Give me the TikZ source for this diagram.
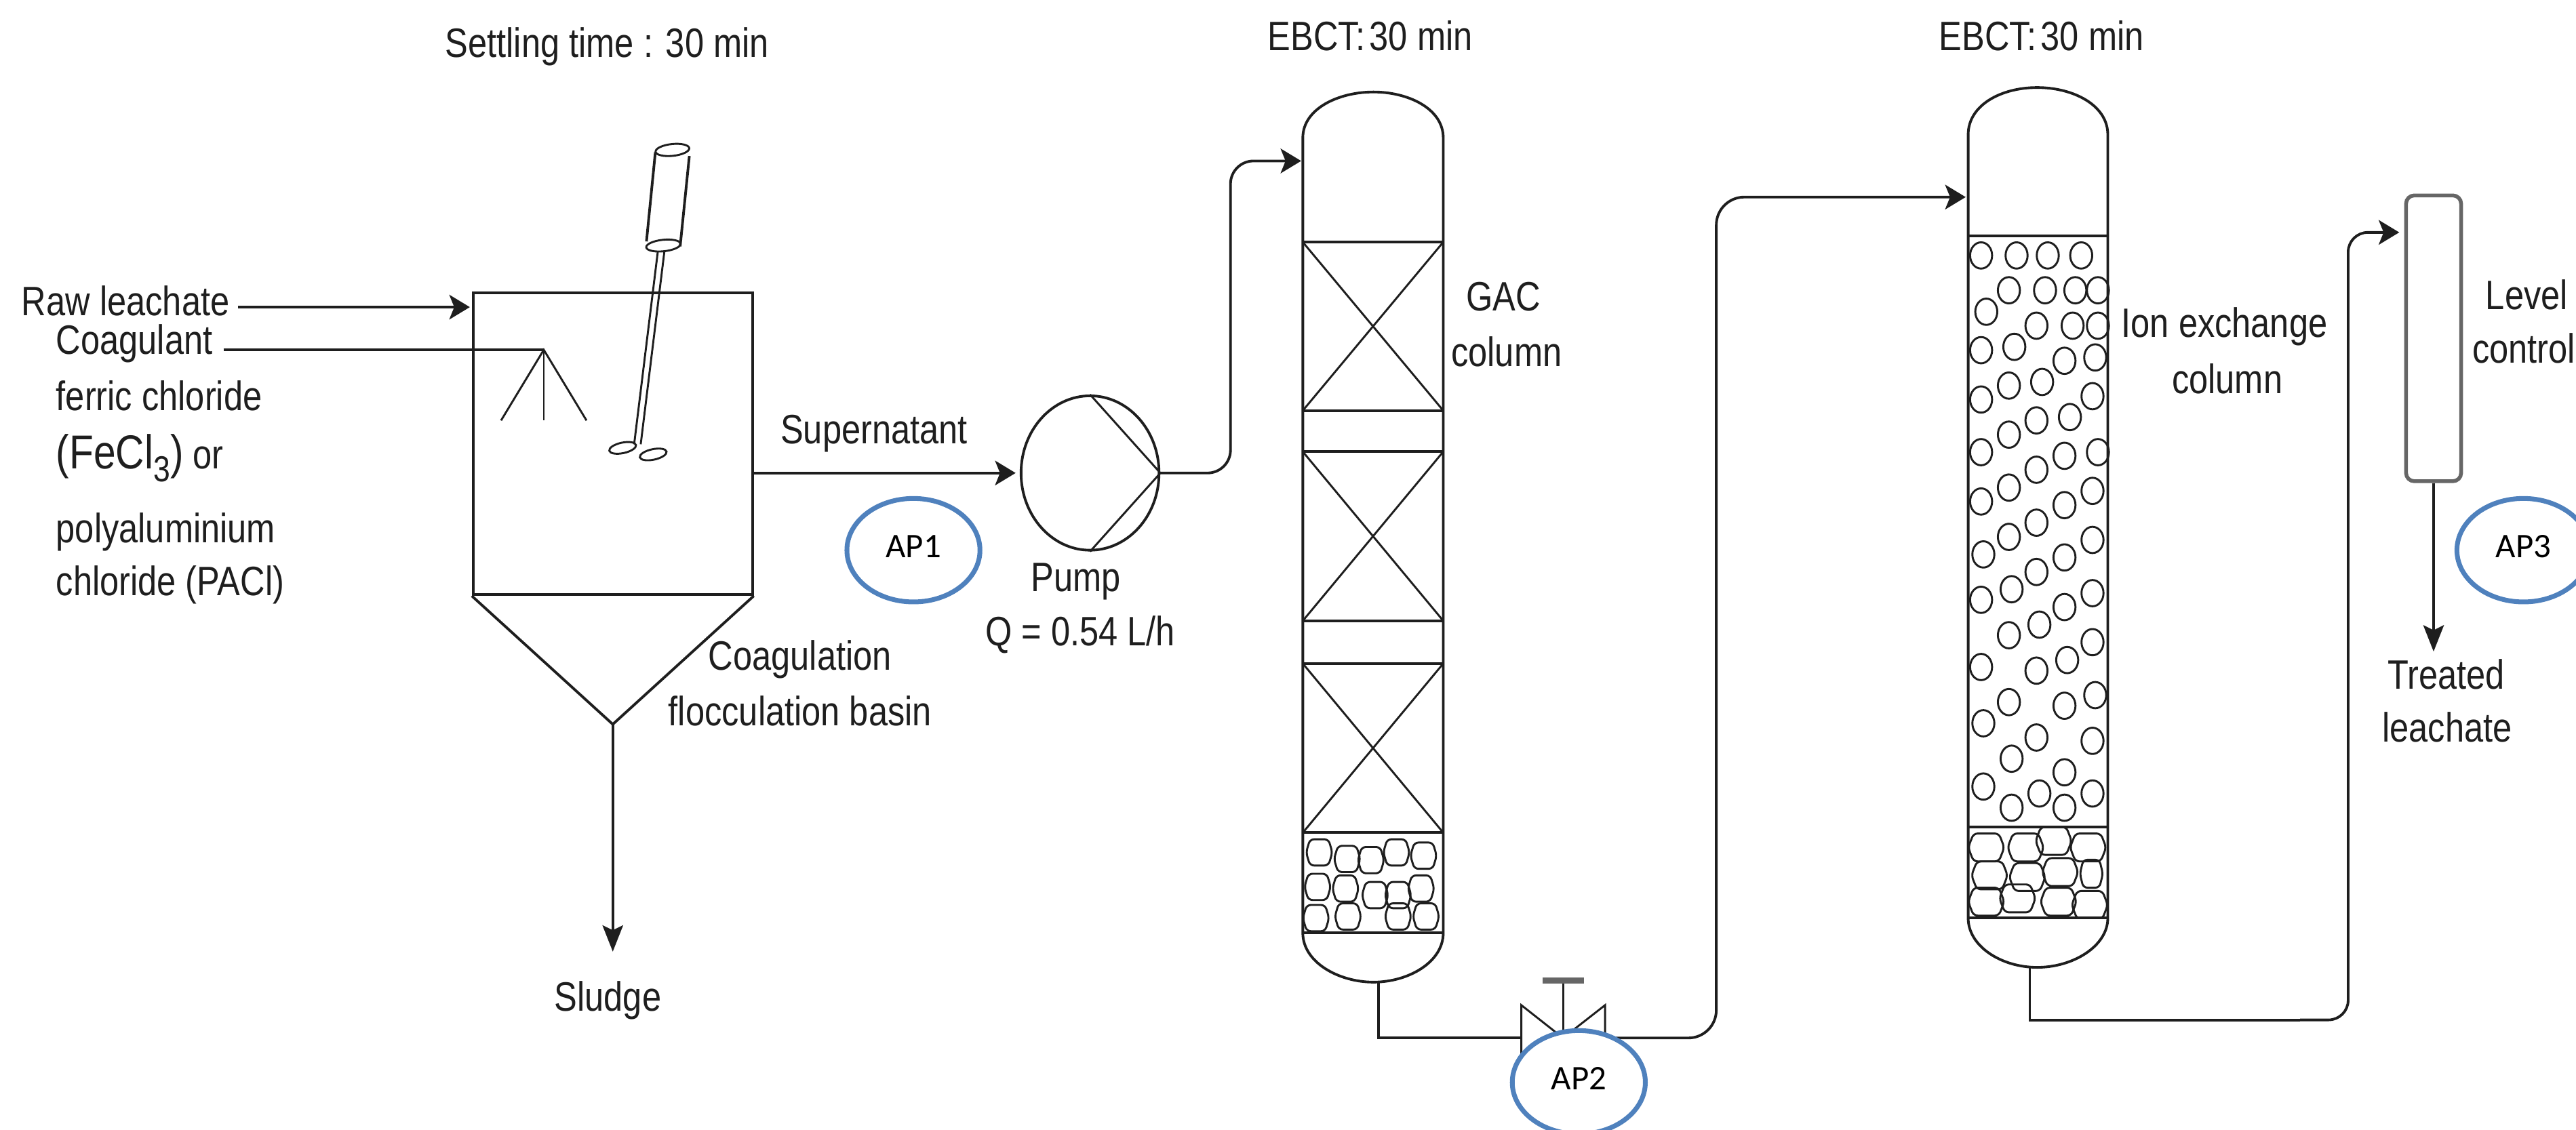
\documentclass[tikz,border=0pt]{standalone}
\usepackage{fontspec}
\setmainfont[FakeStretch=0.835]{Liberation Sans}
\newfontfamily\apfont{Carlito}
\usetikzlibrary{arrows.meta,shapes.geometric,calc}
\definecolor{apblue}{HTML}{4F81BD}
\definecolor{ink}{HTML}{1E1E1E}
\definecolor{rim}{HTML}{666666}
\tikzset{
  line/.style={draw=ink,line width=1.6pt},
  thin line/.style={draw=ink,line width=1.2pt},
  flow/.style={line,-{Stealth[length=12.5pt,width=15pt,inset=3pt]}},
  vflow/.style={line,-{Stealth[length=16pt,width=12.5pt,inset=3pt]}},
  lab/.style={inner sep=0pt,text=ink,font=\fontsize{25}{28}\selectfont,align=center},
  ap/.style={ellipse,draw=apblue,line width=2.9pt,fill=white,inner sep=0pt,minimum width=81pt,minimum height=63pt,font=\apfont\fontsize{21}{24}\selectfont,text=black},
  pebble/.style={thin line},
}
\newcommand{\blob}[4]{% x y rx ry
  \draw[pebble,rounded corners=2.5pt] (#1,#2) ++(#3,0) -- ++(-0.3*#3,-#4) -- ++(-1.4*#3,0) -- ++(-0.3*#3,#4) -- ++(0.3*#3,#4) -- ++(1.4*#3,0) -- cycle;}
\begin{document}
\begin{tikzpicture}[x=1pt,y=-1pt]
\useasboundingbox (0,0) rectangle (1568,688);
\fill[white] (0,0) rectangle (1568,688);

% stirrer shaft and motor
\draw[thin line] (400.4,153.2) -- (386,270.5);
\draw[thin line] (404.4,153.2) -- (390,270.5);
\draw[thin line,rotate around={6:(409.3,91.3)}] (409.3,91.3) ellipse (10.3 and 3.6);
\draw[thin line,rotate around={6:(403.8,149.5)}] (403.8,149.5) ellipse (10.5 and 3.5);
\draw[line] (398.9,92.7) -- (393.5,147);
\draw[line] (419.6,95) -- (414,150);
\draw[thin line,rotate around={12:(379,272.7)}] (379,272.7) ellipse (8.3 and 3.2);
\draw[thin line,rotate around={12:(397.6,276.7)}] (397.6,276.7) ellipse (8.3 and 3.2);

% basin
\node[rectangle,draw=ink,line width=1.6pt,minimum width=170pt,minimum height=183.7pt,inner sep=0pt] (basin) at (373,270.2) {};
\coordinate (apex) at (373,441);
\draw[line,line join=miter] (basin.south west) -- (apex) -- (basin.south east);
% spray
\coordinate (spray) at (331,213);
\coordinate (sprayL) at (305,256);
\coordinate (sprayM) at (331,256);
\coordinate (sprayR) at (357,256);
\draw[thin line] (sprayL) -- (spray) -- (sprayR);
\draw[thin line] (spray) -- (sprayM);

% basin labels
\node[lab,anchor=west] (raw) at (13,183) {Raw leachate};
\node[lab,anchor=west] (coag) at (34,209) {Coagulant};
\node[lab,anchor=west] (ferric) at (34,241) {ferric chloride};
\node[lab,anchor=west] (fecl) at (34,279) {{\fontsize{29}{30}\selectfont (FeCl\raisebox{-8pt}{\fontsize{22}{24}\selectfont 3})} or};
\node[lab,anchor=west] (poly) at (34,324) {polyaluminium};
\node[lab,anchor=west] (pacl) at (34,356) {chloride (PACl)};
\node[lab] (settle) at (369.5,28.5) {Settling time : 30 min};
\node[lab] (coagb) at (487,401.4) {Coagulation};
\node[lab] (floc) at (487,433) {flocculation basin};
\node[lab] (sludge) at (370,609) {Sludge};
\node[lab] (super) at (532,264) {Supernatant};

\coordinate (rawS) at (145,187);
\coordinate (rawE) at (286,187);
\coordinate (coagS) at (136,213);
\draw[flow] (rawS) -- (rawE);
\draw[line] (coagS) -- (spray);
\coordinate (sludgeE) at (373,579.4);
\draw[vflow] (apex) -- (sludgeE);

% pump
\node[ellipse,draw=ink,line width=1.6pt,minimum width=84pt,minimum height=94pt,inner sep=0pt] (pump) at (663.5,288) {};
\draw[thin line] (pump.north) -- (pump.east) -- (pump.south);
\draw[flow,shorten >=2.5pt] (basin.east |- pump.west) -- (pump.west);
\node[lab] (pumpl) at (655,354) {Pump};
\node[lab] (q) at (657.5,386.6) {Q = 0.54 L/h};

% GAC column
\coordinate (gacTL) at (793,84);
\coordinate (gacTR) at (878.5,84);
\coordinate (gacBL) at (793,568);
\coordinate (gacBR) at (878.5,568);
\coordinate (gacOut) at (839,597.5);
\coordinate (gacIn) at (792,98);
\draw[line] (gacBL) -- (gacTL) .. controls (793,66) and (815,56) .. (836,56) .. controls (857,56) and (878.5,66) .. (gacTR) -- (gacBR) .. controls (878.5,586) and (857,598) .. (836,598) .. controls (815,598) and (793,586) .. (gacBL);
\foreach \ya/\yb in {147.4/250,275/378,404/507}{
  \draw[line] (793,\ya) -- (878.5,\ya);
  \draw[line] (793,\yb) -- (878.5,\yb);
  \draw[thin line] (793,\ya) -- (878.5,\yb);
  \draw[thin line] (793,\yb) -- (878.5,\ya);
}
\draw[line] (793,568) -- (878.5,568);
\foreach \x/\y in {803/519,820/523,834.5/523.7,850/519,866.5/521,802/540,819/541,837/545,851/545,865/541,801/559,820.5/558,851/558,868/558}{
  \blob{\x}{\y}{8}{8}
}
\node[lab] (ebct1) at (834,22) {EBCT:\kern-3pt{} 30 min};
\node[lab] (gac) at (915,180.5) {GAC};
\node[lab] (gacc) at (917,214) {column};

% pump to GAC
\coordinate (p1) at (749,288);
\coordinate (p2) at (749,98);
\draw[flow,rounded corners=14pt] (pump.east) -- (p1) -- (p2) -- (gacIn);

% valve
\coordinate (vc) at (951.4,632);
\coordinate (vLT) at (926,612);
\coordinate (vLB) at (926,652);
\coordinate (vRT) at (977,612);
\coordinate (vRB) at (977,652);
\coordinate (vS) at (951.4,597);
\draw[thin line,line join=miter] (vc) -- (vLT) -- (vLB) -- cycle;
\draw[thin line,line join=miter] (vc) -- (vRT) -- (vRB) -- cycle;
\draw[thin line] (vc) -- (vS);
\draw[draw=rim,line width=3.5pt] (939,597) -- (964,597);
\coordinate (vIn) at (926,632);
\coordinate (vOut) at (977,632);
\coordinate (q1) at (839,632);
\draw[line] (gacOut) -- (q1) -- (vIn);

% ion exchange column
\coordinate (ixTL) at (1198,82);
\coordinate (ixTR) at (1283,82);
\coordinate (ixBL) at (1198,559);
\coordinate (ixBR) at (1283,559);
\coordinate (ixOut) at (1235.5,589);
\coordinate (ixIn) at (1196.5,120);
\draw[line] (ixBL) -- (ixTL) .. controls (1198,64) and (1218,53.3) .. (1240,53.3) .. controls (1262,53.3) and (1283,64) .. (ixTR) -- (ixBR) .. controls (1283,576) and (1262,589) .. (1240,589) .. controls (1218,589) and (1198,576) .. (ixBL);
\draw[line] (ixTL |- 0,143.6) -- (ixTR |- 0,143.6);
\draw[line] (ixTL |- 0,503.4) -- (ixTR |- 0,503.4);
\draw[line] (ixBL) -- (ixBR);
\foreach \a/\b in {215/620,372/620,510/620,658/620,338/735,498/735,632/735,732/735,238/806,460/852,620/852,732/852,215/933,362/922,584/968,720/957,215/1096,338/1050,485/1038,708/1085,338/1212,460/1165,608/1154,215/1270,584/1282,732/1270,460/1328,215/1433,338/1387,708/1398,584/1445,460/1503,338/1550,708/1560}{
  \draw[thin line] ({1176.3+\a/7.27},{41.3+\b/5.427}) ellipse (6.7 and 8);
}
\foreach \a/\b in {225/40,584/50,460/98,215/190,350/155,584/214,708/168,338/307,473/272,708/330,215/412,460/424,596/389,338/528,584/540,720/505,225/598,460/645,708/656,350/715,584/760,225/807,350/877,473/830,584/877,708/830}{
  \draw[thin line] ({1176.3+\a/7.27},{330.2+\b/5.427}) ellipse (6.7 and 8);
}
\begin{scope}
\clip (1198,503.4) rectangle (1283,559);
\foreach \x/\y in {1209/516,1233/516,1250/512,1271/516,1211/533,1234/534,1254/531,1209/549,1228/547,1253/549,1272/551}{
  \blob{\x}{\y}{11}{8.5}
}
\blob{1273}{532}{7}{8.5}
\end{scope}
\node[lab] (ebct2) at (1242.6,22) {EBCT:\kern-3pt{} 30 min};
\node[lab] (ion) at (1354,199) {Ion exchange};
\node[lab] (ionc) at (1355.7,230.8) {column};

% valve to ion column
\coordinate (r1) at (1044.7,632);
\coordinate (r2) at (1044.7,120);
\draw[flow,rounded corners=17pt] (vOut) -- (r1) -- (r2) -- (ixIn);

% level control
\node[rectangle,rounded corners=5pt,draw=rim,line width=2.3pt,minimum width=33.5pt,minimum height=174pt,inner sep=0pt] (level) at (1481.3,206) {};
\coordinate (s1) at (1235.5,621);
\coordinate (s1b) at (1400,621);
\coordinate (s2) at (1429.3,621);
\coordinate (s3) at (1429.3,141.5);
\coordinate (lvIn) at (level.west |- s3);
\draw[line] (ixOut) -- (s1) -- (s1b);
\draw[flow,rounded corners=12pt,shorten >=3pt] (s1b) -- (s2) -- (s3) -- (lvIn);
\coordinate (lvE) at (level.south |- 0,396.7);
\draw[vflow] (level.south) -- (lvE);
\node[lab] (lv1) at (1538,179.5) {Level};
\node[lab,anchor=east] (lv2) at (1567.8,212) {control};
\node[lab] (tr1) at (1489,410.5) {Treated};
\node[lab] (tr2) at (1489.5,443) {leachate};

% sampling points
\node[ap] (ap1) at (556,335) {\raisebox{4.5pt}{AP1}};
\node[ap] (ap2) at (961,659) {\raisebox{4.5pt}{AP2}};
\node[ap] (ap3) at (1536,335) {\raisebox{4.5pt}{AP3}};
\end{tikzpicture}
\end{document}
